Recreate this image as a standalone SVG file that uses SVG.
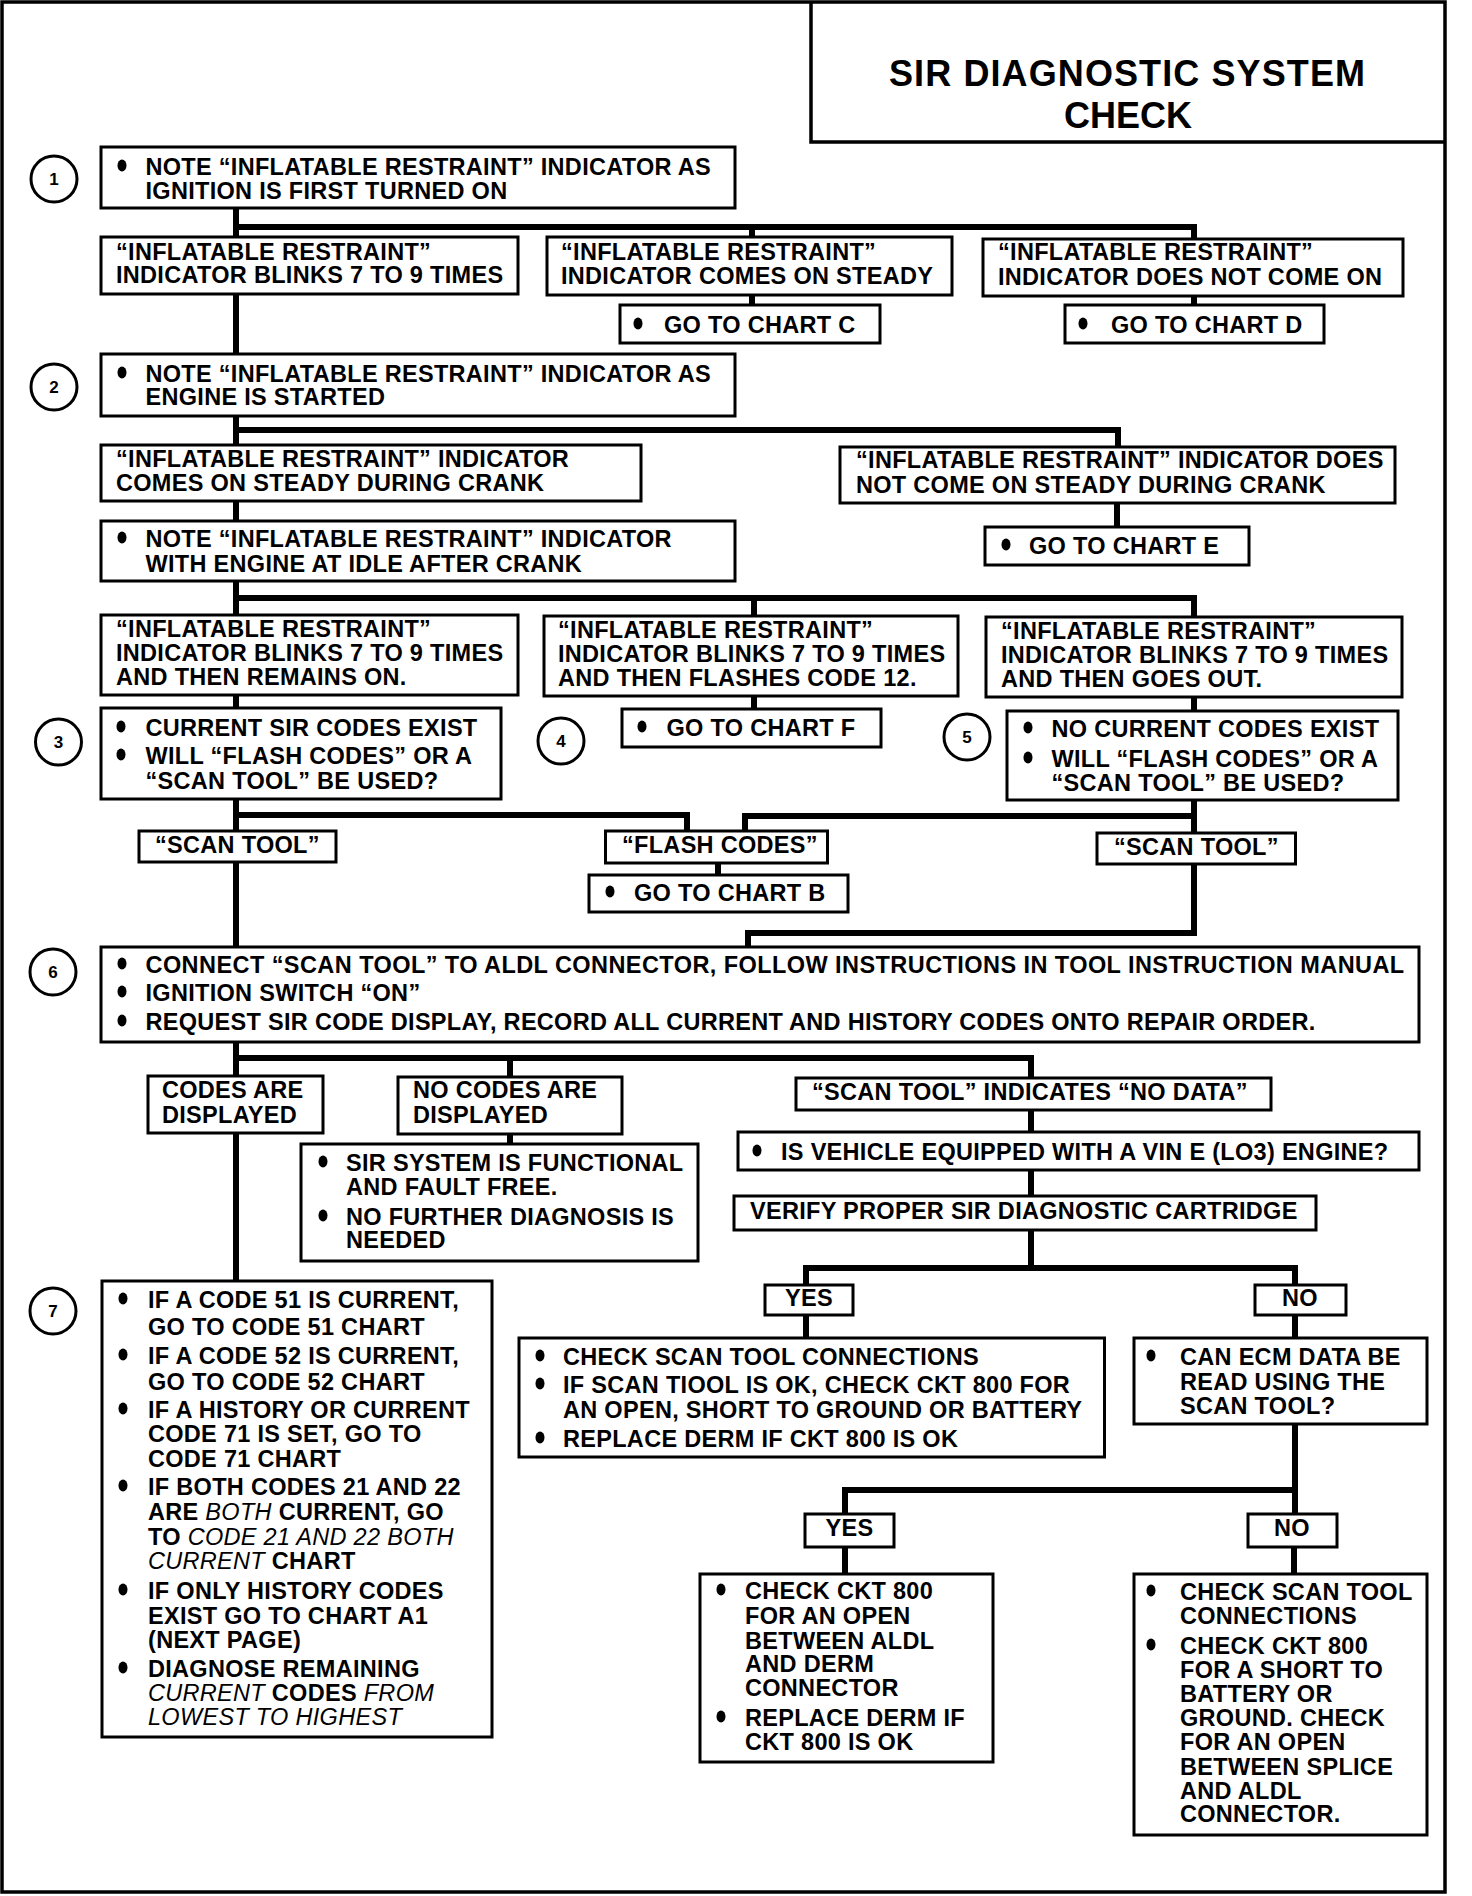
<svg xmlns="http://www.w3.org/2000/svg" width="1472" height="1896" viewBox="0 0 1472 1896">
<style>
.frame{fill:none;stroke:#000;stroke-width:3.5}
.box{fill:#fff;stroke:#000;stroke-width:3}
.c{fill:none;stroke:#000;stroke-width:6;stroke-linejoin:miter;stroke-linecap:butt}
.t{font-family:"Liberation Sans",Arial,sans-serif;font-weight:bold;font-size:23.5px;letter-spacing:0.3px;fill:#000}
.i{font-style:italic;font-weight:normal}
.ttl{font-family:"Liberation Sans",Arial,sans-serif;font-weight:bold;font-size:36px;fill:#000;text-anchor:middle}
.num{font-family:"Liberation Sans",Arial,sans-serif;font-weight:bold;font-size:17px;fill:#000;text-anchor:middle}
.ring{fill:#fff;stroke:#000;stroke-width:3}
.dot{fill:#000}
.mid{text-anchor:middle}
</style>
<rect width="1472" height="1896" fill="#fff"/>
<rect class="frame" x="2" y="2" width="1443" height="1890"/>

<g id="title">
<path class="frame" d="M811 2 V142 H1445"/>
<text class="ttl" x="1127" y="86" textLength="476">SIR DIAGNOSTIC SYSTEM</text>
<text class="ttl" x="1128" y="128">CHECK</text>
</g>

<g id="connectors">
<path class="c" d="M236 208 V237"/>
<path class="c" d="M236 227 H1194 V239 M752 227 V237"/>
<path class="c" d="M236 294 V354"/>
<path class="c" d="M752 295 V305"/>
<path class="c" d="M1194 296 V305"/>
<path class="c" d="M236 416 V445"/>
<path class="c" d="M236 430 H1118 V447"/>
<path class="c" d="M1117 503 V527"/>
<path class="c" d="M236 501 V521"/>
<path class="c" d="M236 581 V615"/>
<path class="c" d="M236 598 H1194 V617 M754 598 V616"/>
<path class="c" d="M236 695 V708"/>
<path class="c" d="M754 696 V709"/>
<path class="c" d="M1194 697 V711"/>
<path class="c" d="M236 799 V831"/>
<path class="c" d="M236 815 H687 V831"/>
<path class="c" d="M1194 800 V833"/>
<path class="c" d="M1194 816 H745 V831"/>
<path class="c" d="M718 863 V875"/>
<path class="c" d="M236 862 V947"/>
<path class="c" d="M1194 864 V933 H748 V947"/>
<path class="c" d="M236 1042 V1076"/>
<path class="c" d="M236 1058 H1031 V1078 M510 1058 V1077"/>
<path class="c" d="M510 1134 V1144"/>
<path class="c" d="M236 1133 V1281"/>
<path class="c" d="M1031 1110 V1132"/>
<path class="c" d="M1031 1170 V1196"/>
<path class="c" d="M1031 1230 V1268"/>
<path class="c" d="M806 1285 V1268 H1295 V1285"/>
<path class="c" d="M806 1315 V1338"/>
<path class="c" d="M1295 1315 V1338"/>
<path class="c" d="M1295 1424 V1490 M845 1514 V1490 H1295 V1514"/>
<path class="c" d="M845 1547 V1574"/>
<path class="c" d="M1294 1547 V1574"/>
</g>

<g id="step1">
<circle class="ring" cx="54" cy="179" r="23"/>
<text class="num" x="54" y="185">1</text>
</g>
<g id="n1">
<rect class="box" x="101" y="147" width="634" height="61"/>
<ellipse class="dot" cx="122" cy="165.5" rx="4.5" ry="6"/>
<text class="t" x="145.5" y="175">NOTE “INFLATABLE RESTRAINT” INDICATOR AS</text>
<text class="t" x="145.5" y="199">IGNITION IS FIRST TURNED ON</text>
</g>
<g id="n1a">
<rect class="box" x="101" y="237" width="417" height="57"/>
<text class="t" x="116" y="260">“INFLATABLE RESTRAINT”</text>
<text class="t" x="116" y="283">INDICATOR BLINKS 7 TO 9 TIMES</text>
</g>
<g id="n1b">
<rect class="box" x="547" y="237" width="405" height="58"/>
<text class="t" x="561" y="260">“INFLATABLE RESTRAINT”</text>
<text class="t" x="561" y="284">INDICATOR COMES ON STEADY</text>
</g>
<g id="n1c">
<rect class="box" x="983" y="239" width="420" height="57"/>
<text class="t" x="998" y="260">“INFLATABLE RESTRAINT”</text>
<text class="t" x="998" y="285">INDICATOR DOES NOT COME ON</text>
</g>
<g id="chartC">
<rect class="box" x="620" y="305" width="260" height="38"/>
<ellipse class="dot" cx="638" cy="323.5" rx="4.5" ry="6"/>
<text class="t" x="664" y="333">GO TO CHART C</text>
</g>
<g id="chartD">
<rect class="box" x="1065" y="305" width="259" height="38"/>
<ellipse class="dot" cx="1083" cy="323.5" rx="4.5" ry="6"/>
<text class="t" x="1111" y="333">GO TO CHART D</text>
</g>

<g id="step2">
<circle class="ring" cx="54" cy="387" r="23"/>
<text class="num" x="54" y="393">2</text>
</g>
<g id="n2">
<rect class="box" x="101" y="354" width="634" height="62"/>
<ellipse class="dot" cx="122" cy="372.5" rx="4.5" ry="6"/>
<text class="t" x="145.5" y="382">NOTE “INFLATABLE RESTRAINT” INDICATOR AS</text>
<text class="t" x="145.5" y="405">ENGINE IS STARTED</text>
</g>
<g id="n2a">
<rect class="box" x="101" y="445" width="540" height="56"/>
<text class="t" x="116" y="467">“INFLATABLE RESTRAINT” INDICATOR</text>
<text class="t" x="116" y="491">COMES ON STEADY DURING CRANK</text>
</g>
<g id="n2b">
<rect class="box" x="840" y="447" width="555" height="56"/>
<text class="t" x="856" y="468">“INFLATABLE RESTRAINT” INDICATOR DOES</text>
<text class="t" x="856" y="493">NOT COME ON STEADY DURING CRANK</text>
</g>
<g id="chartE">
<rect class="box" x="985" y="527" width="264" height="38"/>
<ellipse class="dot" cx="1006" cy="544.5" rx="4.5" ry="6"/>
<text class="t" x="1029" y="554">GO TO CHART E</text>
</g>
<g id="n2c">
<rect class="box" x="101" y="521" width="634" height="60"/>
<ellipse class="dot" cx="122" cy="537.5" rx="4.5" ry="6"/>
<text class="t" x="145.5" y="547">NOTE “INFLATABLE RESTRAINT” INDICATOR</text>
<text class="t" x="145.5" y="572">WITH ENGINE AT IDLE AFTER CRANK</text>
</g>
<g id="n2d">
<rect class="box" x="101" y="615" width="417" height="80"/>
<text class="t" x="116" y="637">“INFLATABLE RESTRAINT”</text>
<text class="t" x="116" y="661">INDICATOR BLINKS 7 TO 9 TIMES</text>
<text class="t" x="116" y="685">AND THEN REMAINS ON.</text>
</g>
<g id="n2e">
<rect class="box" x="544" y="616" width="414" height="80"/>
<text class="t" x="558" y="638">“INFLATABLE RESTRAINT”</text>
<text class="t" x="558" y="662">INDICATOR BLINKS 7 TO 9 TIMES</text>
<text class="t" x="558" y="686">AND THEN FLASHES CODE 12.</text>
</g>
<g id="n2f">
<rect class="box" x="986" y="617" width="416" height="80"/>
<text class="t" x="1001" y="639">“INFLATABLE RESTRAINT”</text>
<text class="t" x="1001" y="663">INDICATOR BLINKS 7 TO 9 TIMES</text>
<text class="t" x="1001" y="687">AND THEN GOES OUT.</text>
</g>

<g id="step3">
<circle class="ring" cx="58.5" cy="742" r="23"/>
<text class="num" x="58.5" y="748">3</text>
</g>
<g id="n3">
<rect class="box" x="101" y="708" width="400" height="91"/>
<ellipse class="dot" cx="121" cy="726.5" rx="4.5" ry="6"/>
<text class="t" x="145.5" y="736">CURRENT SIR CODES EXIST</text>
<ellipse class="dot" cx="121" cy="754.5" rx="4.5" ry="6"/>
<text class="t" x="145.5" y="764">WILL “FLASH CODES” OR A</text>
<text class="t" x="145.5" y="789">“SCAN TOOL” BE USED?</text>
</g>
<g id="step4">
<circle class="ring" cx="561" cy="741" r="23"/>
<text class="num" x="561" y="747">4</text>
</g>
<g id="chartF">
<rect class="box" x="622" y="709" width="259" height="38"/>
<ellipse class="dot" cx="642" cy="726.5" rx="4.5" ry="6"/>
<text class="t" x="666.5" y="736">GO TO CHART F</text>
</g>
<g id="step5">
<circle class="ring" cx="967" cy="737" r="23"/>
<text class="num" x="967" y="743">5</text>
</g>
<g id="n5">
<rect class="box" x="1007" y="711" width="391" height="89"/>
<ellipse class="dot" cx="1028" cy="727.5" rx="4.5" ry="6"/>
<text class="t" x="1051.5" y="737">NO CURRENT CODES EXIST</text>
<ellipse class="dot" cx="1028" cy="757.5" rx="4.5" ry="6"/>
<text class="t" x="1051.5" y="767">WILL “FLASH CODES” OR A</text>
<text class="t" x="1051.5" y="791">“SCAN TOOL” BE USED?</text>
</g>
<g id="scanL">
<rect class="box" x="139" y="831" width="197" height="31"/>
<text class="t" x="155" y="853">“SCAN TOOL”</text>
</g>
<g id="flash">
<rect class="box" x="605.5" y="831" width="222" height="32"/>
<text class="t" x="622" y="853">“FLASH CODES”</text>
</g>
<g id="chartB">
<rect class="box" x="589" y="875" width="259" height="37"/>
<ellipse class="dot" cx="610" cy="891.5" rx="4.5" ry="6"/>
<text class="t" x="634" y="901">GO TO CHART B</text>
</g>
<g id="scanR">
<rect class="box" x="1097" y="833" width="198.5" height="31"/>
<text class="t" x="1114" y="855">“SCAN TOOL”</text>
</g>

<g id="step6">
<circle class="ring" cx="53" cy="972" r="23"/>
<text class="num" x="53" y="978">6</text>
</g>
<g id="n6">
<rect class="box" x="101" y="947" width="1318" height="95"/>
<ellipse class="dot" cx="122" cy="963.5" rx="4.5" ry="6"/>
<text class="t" x="145.5" y="973" textLength="1259">CONNECT “SCAN TOOL” TO ALDL CONNECTOR, FOLLOW INSTRUCTIONS IN TOOL INSTRUCTION MANUAL</text>
<ellipse class="dot" cx="122" cy="991.5" rx="4.5" ry="6"/>
<text class="t" x="145.5" y="1001">IGNITION SWITCH “ON”</text>
<ellipse class="dot" cx="122" cy="1020.5" rx="4.5" ry="6"/>
<text class="t" x="145.5" y="1030" textLength="1170">REQUEST SIR CODE DISPLAY, RECORD ALL CURRENT AND HISTORY CODES ONTO REPAIR ORDER.</text>
</g>
<g id="codes">
<rect class="box" x="148" y="1076" width="175" height="57"/>
<text class="t" x="162" y="1098">CODES ARE</text>
<text class="t" x="162" y="1123">DISPLAYED</text>
</g>
<g id="nocodes">
<rect class="box" x="398" y="1077" width="224" height="57"/>
<text class="t" x="413" y="1098">NO CODES ARE</text>
<text class="t" x="413" y="1123">DISPLAYED</text>
</g>
<g id="sirok">
<rect class="box" x="301" y="1144" width="397" height="117"/>
<ellipse class="dot" cx="323" cy="1161.5" rx="4.5" ry="6"/>
<text class="t" x="346" y="1171">SIR SYSTEM IS FUNCTIONAL</text>
<text class="t" x="346" y="1195">AND FAULT FREE.</text>
<ellipse class="dot" cx="323" cy="1215.5" rx="4.5" ry="6"/>
<text class="t" x="346" y="1225">NO FURTHER DIAGNOSIS IS</text>
<text class="t" x="346" y="1248">NEEDED</text>
</g>
<g id="nodata">
<rect class="box" x="796" y="1078" width="475" height="32"/>
<text class="t" x="812" y="1100">“SCAN TOOL” INDICATES “NO DATA”</text>
</g>
<g id="vin">
<rect class="box" x="738" y="1132" width="681" height="38"/>
<ellipse class="dot" cx="757" cy="1150.5" rx="4.5" ry="6"/>
<text class="t" x="781" y="1160">IS VEHICLE EQUIPPED WITH A VIN E (LO3) ENGINE?</text>
</g>
<g id="verify">
<rect class="box" x="734" y="1196" width="582" height="34"/>
<text class="t" x="750" y="1219">VERIFY PROPER SIR DIAGNOSTIC CARTRIDGE</text>
</g>
<g id="yes1">
<rect class="box" x="765" y="1285" width="88" height="30"/>
<text class="t mid" x="809" y="1306">YES</text>
</g>
<g id="no1">
<rect class="box" x="1255" y="1285" width="91" height="30"/>
<text class="t mid" x="1300" y="1306">NO</text>
</g>
<g id="checkconn">
<rect class="box" x="519" y="1338" width="585.5" height="119"/>
<ellipse class="dot" cx="540" cy="1355.5" rx="4.5" ry="6"/>
<text class="t" x="563" y="1365">CHECK SCAN TOOL CONNECTIONS</text>
<ellipse class="dot" cx="540" cy="1383.5" rx="4.5" ry="6"/>
<text class="t" x="563" y="1393">IF SCAN TIOOL IS OK, CHECK CKT 800 FOR</text>
<text class="t" x="563" y="1418">AN OPEN, SHORT TO GROUND OR BATTERY</text>
<ellipse class="dot" cx="540" cy="1437.5" rx="4.5" ry="6"/>
<text class="t" x="563" y="1447">REPLACE DERM IF CKT 800 IS OK</text>
</g>
<g id="ecm">
<rect class="box" x="1134" y="1338" width="293" height="86"/>
<ellipse class="dot" cx="1151" cy="1355.5" rx="4.5" ry="6"/>
<text class="t" x="1180" y="1365">CAN ECM DATA BE</text>
<text class="t" x="1180" y="1390">READ USING THE</text>
<text class="t" x="1180" y="1414">SCAN TOOL?</text>
</g>
<g id="yes2">
<rect class="box" x="805" y="1514" width="89" height="33"/>
<text class="t mid" x="849.5" y="1536">YES</text>
</g>
<g id="no2">
<rect class="box" x="1248" y="1514" width="89" height="33"/>
<text class="t mid" x="1292" y="1536">NO</text>
</g>
<g id="ckt">
<rect class="box" x="700" y="1574" width="293" height="188"/>
<ellipse class="dot" cx="721" cy="1589.5" rx="4.5" ry="6"/>
<text class="t" x="745" y="1599">CHECK CKT 800</text>
<text class="t" x="745" y="1624">FOR AN OPEN</text>
<text class="t" x="745" y="1649">BETWEEN ALDL</text>
<text class="t" x="745" y="1672">AND DERM</text>
<text class="t" x="745" y="1696">CONNECTOR</text>
<ellipse class="dot" cx="721" cy="1716.5" rx="4.5" ry="6"/>
<text class="t" x="745" y="1726">REPLACE DERM IF</text>
<text class="t" x="745" y="1750">CKT 800 IS OK</text>
</g>
<g id="scanconn">
<rect class="box" x="1134" y="1574" width="293" height="261"/>
<ellipse class="dot" cx="1151" cy="1590.5" rx="4.5" ry="6"/>
<text class="t" x="1180" y="1600">CHECK SCAN TOOL</text>
<text class="t" x="1180" y="1624">CONNECTIONS</text>
<ellipse class="dot" cx="1151" cy="1644.5" rx="4.5" ry="6"/>
<text class="t" x="1180" y="1654">CHECK CKT 800</text>
<text class="t" x="1180" y="1678">FOR A SHORT TO</text>
<text class="t" x="1180" y="1702">BATTERY OR</text>
<text class="t" x="1180" y="1726">GROUND. CHECK</text>
<text class="t" x="1180" y="1750">FOR AN OPEN</text>
<text class="t" x="1180" y="1775">BETWEEN SPLICE</text>
<text class="t" x="1180" y="1799">AND ALDL</text>
<text class="t" x="1180" y="1822">CONNECTOR.</text>
</g>

<g id="step7">
<circle class="ring" cx="53" cy="1311" r="23"/>
<text class="num" x="53" y="1317">7</text>
</g>
<g id="n7">
<rect class="box" x="102" y="1281" width="390" height="456"/>
<ellipse class="dot" cx="123" cy="1298.5" rx="4.5" ry="6"/>
<text class="t" x="148" y="1308">IF A CODE 51 IS CURRENT,</text>
<text class="t" x="148" y="1335">GO TO CODE 51 CHART</text>
<ellipse class="dot" cx="123" cy="1354.5" rx="4.5" ry="6"/>
<text class="t" x="148" y="1364">IF A CODE 52 IS CURRENT,</text>
<text class="t" x="148" y="1390">GO TO CODE 52 CHART</text>
<ellipse class="dot" cx="123" cy="1408.5" rx="4.5" ry="6"/>
<text class="t" x="148" y="1418">IF A HISTORY OR CURRENT</text>
<text class="t" x="148" y="1442">CODE 71 IS SET, GO TO</text>
<text class="t" x="148" y="1467">CODE 71 CHART</text>
<ellipse class="dot" cx="123" cy="1485.5" rx="4.5" ry="6"/>
<text class="t" x="148" y="1495">IF BOTH CODES 21 AND 22</text>
<text class="t" x="148" y="1520">ARE <tspan class="i">BOTH</tspan> CURRENT, GO</text>
<text class="t" x="148" y="1545">TO  <tspan class="i">CODE 21 AND 22 BOTH</tspan></text>
<text class="t" x="148" y="1569"><tspan class="i">CURRENT</tspan> CHART</text>
<ellipse class="dot" cx="123" cy="1589.5" rx="4.5" ry="6"/>
<text class="t" x="148" y="1599">IF ONLY HISTORY CODES</text>
<text class="t" x="148" y="1624">EXIST GO TO CHART A1</text>
<text class="t" x="148" y="1648">(NEXT PAGE)</text>
<ellipse class="dot" cx="123" cy="1667.5" rx="4.5" ry="6"/>
<text class="t" x="148" y="1677">DIAGNOSE REMAINING</text>
<text class="t" x="148" y="1701"><tspan class="i">CURRENT</tspan> CODES <tspan class="i">FROM</tspan></text>
<text class="t" x="148" y="1725"><tspan class="i">LOWEST TO HIGHEST</tspan></text>
</g>
</svg>
